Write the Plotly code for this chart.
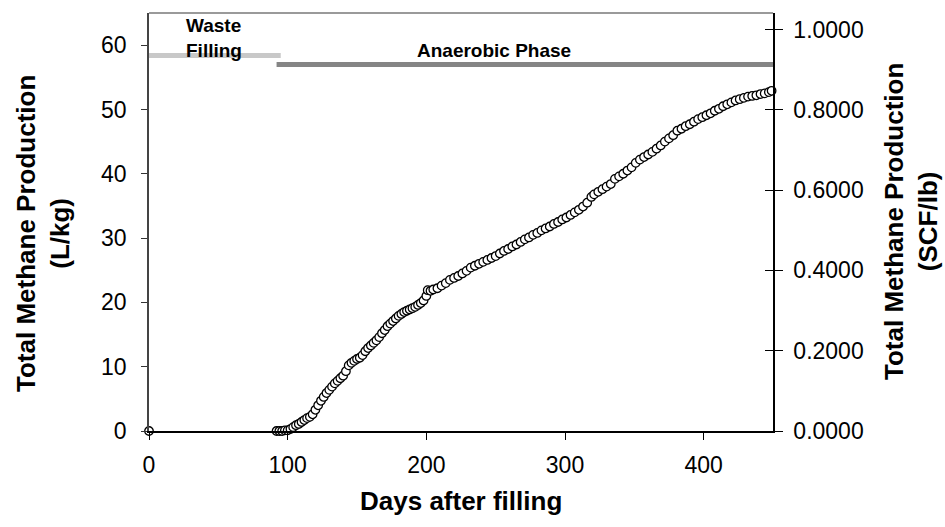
import plotly.graph_objects as go

# Cumulative methane production (L/kg) by days after filling
days = [0,
        92, 94, 96, 98, 100, 102, 104, 106, 108, 110, 112, 114, 116, 118, 120,
        122, 124, 126, 128, 130, 132, 134, 136, 138, 140, 142, 144, 146, 148,
        150, 152, 154, 156, 158, 160, 162, 164, 166, 168, 170, 172, 174, 176,
        178, 180, 182, 184, 186, 188, 190, 192, 194, 196, 198, 200, 201, 203,
        205, 208, 211, 214, 217, 220, 223, 226, 229, 232, 235, 238, 241, 244,
        247, 250, 253, 256, 259, 262, 265, 268, 271, 274, 277, 280, 283, 286,
        289, 292, 295, 298, 301, 304, 307, 310, 313, 316, 319, 321, 324, 327,
        330, 333, 336, 339, 342, 345, 348, 351, 354, 357, 360, 363, 366, 369,
        372, 375, 378, 381, 384, 387, 390, 393, 396, 399, 402, 405, 408, 411,
        414, 417, 420, 423, 426, 429, 432, 435, 438, 441, 444, 447, 449]
methane_lkg = [0,
               0.0, 0.0, 0.0, 0.1, 0.1, 0.3, 0.6, 0.9, 1.1, 1.4, 1.7, 2.0, 2.2, 2.6, 3.3,
               4.0, 4.7, 5.3, 5.9, 6.4, 6.9, 7.4, 7.8, 8.2, 8.6, 9.3, 10.2, 10.6, 10.9,
               11.2, 11.4, 11.8, 12.4, 12.9, 13.3, 13.7, 14.1, 14.6, 15.2, 15.7, 16.3, 16.7, 17.1,
               17.5, 17.9, 18.2, 18.5, 18.7, 18.9, 19.1, 19.3, 19.6, 19.9, 20.3, 21.0, 21.9, 21.8,
               22.0, 22.2, 22.6, 23.0, 23.5, 23.8, 24.1, 24.5, 24.9, 25.4, 25.7, 26.0, 26.3, 26.6,
               26.9, 27.2, 27.6, 28.0, 28.3, 28.7, 29.0, 29.4, 29.8, 30.1, 30.5, 30.8, 31.2, 31.5,
               31.8, 32.2, 32.5, 32.9, 33.2, 33.6, 34.0, 34.4, 34.9, 35.5, 36.4, 36.8, 37.2, 37.6,
               38.0, 38.4, 39.2, 39.6, 40.0, 40.5, 41.0, 41.7, 42.2, 42.6, 43.0, 43.4, 43.9, 44.4,
               45.0, 45.5, 46.0, 46.7, 47.0, 47.4, 47.7, 48.1, 48.5, 48.8, 49.1, 49.4, 49.8, 50.1,
               50.5, 50.8, 51.1, 51.4, 51.6, 51.8, 52.0, 52.1, 52.2, 52.4, 52.5, 52.7, 52.9]

# Phase bars: (start day, end day, level in L/kg)
waste_filling = [0, 95, 58.4]
anaerobic = [92, 454, 57.0]

x_ticks = [0, 100, 200, 300, 400]
y_ticks = [0, 10, 20, 30, 40, 50, 60]
y2_ticks = [0.0, 0.2, 0.4, 0.6, 0.8, 1.0]

LKG_PER_SCFLB = 62.43
Y_MAX = 65.0
FONT = "Liberation Sans, Arial, sans-serif"

fig = go.Figure()

fig.add_trace(go.Scatter(
    x=[waste_filling[0], waste_filling[1]], y=[waste_filling[2]] * 2,
    mode="lines", line=dict(color="#c8c8c8", width=5),
    hoverinfo="skip", showlegend=False, cliponaxis=False))
fig.add_trace(go.Scatter(
    x=[anaerobic[0], anaerobic[1]], y=[anaerobic[2]] * 2,
    mode="lines", line=dict(color="#858585", width=5),
    hoverinfo="skip", showlegend=False, cliponaxis=False))

fig.add_trace(go.Scatter(
    x=days, y=methane_lkg, mode="markers",
    marker=dict(symbol="circle", size=8.5, color="white",
                line=dict(color="black", width=1.3)),
    showlegend=False, cliponaxis=False))

# right axis in SCF/lb (invisible helper traces)
fig.add_trace(go.Scatter(x=[0], y=[0], yaxis="y2", mode="markers",
                         marker=dict(opacity=0), hoverinfo="skip", showlegend=False))
fig.add_trace(go.Scatter(x=[0], y=[0], yaxis="y3", mode="markers",
                         marker=dict(opacity=0), hoverinfo="skip", showlegend=False))

tick_font = dict(family=FONT, size=23, color="black")
title_font = dict(family=FONT, size=26, color="black")
note_font = dict(family=FONT, size=19, color="black")

fig.update_layout(
    width=945, height=527,
    margin=dict(l=149, r=172, t=13, b=96),
    paper_bgcolor="white", plot_bgcolor="white",
    xaxis=dict(range=[0, 450], tickvals=x_ticks, ticks="outside", ticklen=7,
               tickcolor="black", showline=True, linecolor="black", linewidth=1.5,
               showgrid=False, zeroline=False, tickfont=tick_font,
               ticklabelstandoff=6),
    yaxis=dict(range=[0, Y_MAX], tickvals=y_ticks, ticks="outside", ticklen=6,
               tickcolor="#333", showline=True, linecolor="#444", linewidth=1.5,
               showgrid=False, zeroline=False, tickfont=tick_font,
               ticklabelstandoff=10),
    yaxis2=dict(range=[0, Y_MAX / LKG_PER_SCFLB], overlaying="y", side="right",
                tickvals=y2_ticks, ticktext=[f"{v:.4f}" for v in y2_ticks],
                ticks="outside", ticklen=8, tickcolor="black",
                showline=True, linecolor="black", linewidth=1.5,
                showgrid=False, zeroline=False, tickfont=tick_font,
                ticklabelstandoff=6),
    yaxis3=dict(range=[0, Y_MAX / LKG_PER_SCFLB], overlaying="y", side="right",
                tickvals=y2_ticks, ticks="inside", ticklen=8, tickcolor="black",
                showticklabels=False, showgrid=False, zeroline=False, showline=False),
    shapes=[dict(type="line", xref="paper", yref="paper", x0=0, x1=1, y0=1, y1=1,
                 line=dict(color="#9a9a9a", width=2))],
    annotations=[
        # axis titles
        dict(x=0, y=0.5, xref="paper", yref="paper", xshift=-106, yshift=-12,
             text="<b>Total Methane Production<br>(L/kg)</b>", textangle=-90,
             showarrow=False, xanchor="center", yanchor="middle", font=title_font),
        dict(x=1, y=0.5, xref="paper", yref="paper", xshift=138, yshift=0,
             text="<b>Total Methane Production<br>(SCF/lb)</b>", textangle=-90,
             showarrow=False, xanchor="center", yanchor="middle", font=title_font),
        dict(x=0.5, y=0, xref="paper", yref="paper", yshift=-70,
             text="<b>Days after filling</b>",
             showarrow=False, xanchor="center", yanchor="middle", font=title_font),
        # phase labels
        dict(x=25, y=1.0, xref="x", yref="paper", xshift=0, yshift=0,
             text="<b>Waste<br>Filling</b>", showarrow=False, xanchor="left", yanchor="top",
             font=note_font, align="left"),
        dict(x=249, y=anaerobic[2], xref="x", yref="y", text="<b>Anaerobic Phase</b>",
             showarrow=False, xanchor="center", yanchor="bottom", yshift=1,
             font=note_font),
    ],
)

fig.write_html("out.html")
